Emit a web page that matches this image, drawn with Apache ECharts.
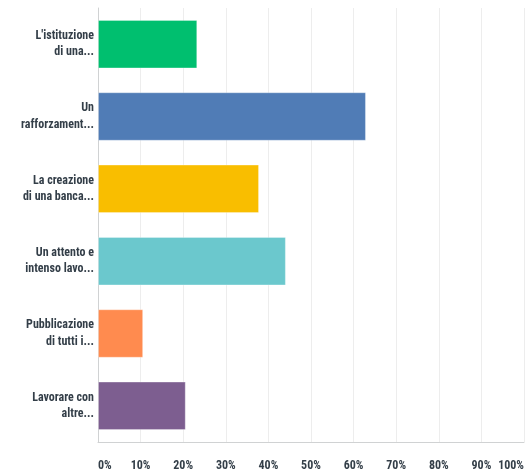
<!DOCTYPE html>
<html>
<head>
<meta charset="utf-8">
<script src="https://cdn.jsdelivr.net/npm/echarts@6/dist/echarts.min.js"></script>
<style>
  html, body { margin: 0; padding: 0; background: #fff; }
  #chart { width: 527px; height: 472px; }
</style>
</head>
<body>
<div id="chart"></div>
<script>
// Answer options (truncated as displayed) and share of respondents, in percent
const categories = [
  "L'istituzione\ndi una...",
  "Un\nrafforzament...",
  "La creazione\ndi una banca...",
  "Un attento e\nintenso lavo...",
  "Pubblicazione\ndi tutti i...",
  "Lavorare con\naltre..."
];
const percentages = [23.3, 62.9, 37.8, 44.1, 10.6, 20.6];
const barColors = ["#00BF6F", "#507CB6", "#F9BE00", "#6BC8CD", "#FF8B4F", "#7D5E90"];
const tickValues = [0, 10, 20, 30, 40, 50, 60, 70, 80, 90, 100];

const labelFont = "'Roboto Condensed', 'DejaVu Sans Condensed', sans-serif";

const chart = echarts.init(document.getElementById('chart'), null, { renderer: 'canvas' });
chart.setOption({
  animation: false,
  grid: { left: 98, right: 1, top: 8, bottom: 29, containLabel: false },
  xAxis: {
    type: 'value',
    min: tickValues[0],
    max: tickValues[tickValues.length - 1],
    interval: 10,
    axisLine: { show: true, lineStyle: { color: '#d0d2d3', width: 1 } },
    axisTick: { show: false },
    splitLine: { show: true, lineStyle: { color: '#ededed', width: 1 } },
    axisLabel: {
      formatter: '{value}%',
      color: '#333e48',
      fontFamily: labelFont,
      fontWeight: 'bold',
      fontSize: 12,
      margin: 18,
      showMinLabel: true,
      showMaxLabel: true,
      hideOverlap: false,
      alignMinLabel: 'left',
      alignMaxLabel: 'right'
    }
  },
  yAxis: {
    type: 'category',
    data: categories,
    inverse: true,
    axisLine: { show: true, lineStyle: { color: '#d0d2d3', width: 1 } },
    axisTick: { show: false },
    splitLine: { show: false },
    axisLabel: {
      color: '#333e48',
      fontFamily: labelFont,
      fontWeight: 'bold',
      fontSize: 12,
      lineHeight: 16.5,
      margin: 4,
      align: 'right'
    }
  },
  series: [{
    type: 'bar',
    data: percentages.map((v, i) => ({
      value: v,
      itemStyle: { color: barColors[i] }
    })),
    barWidth: '67%',
    itemStyle: { borderColor: 'rgba(255,255,255,0.3)', borderWidth: 1 }
  }]
});
</script>
</body>
</html>
